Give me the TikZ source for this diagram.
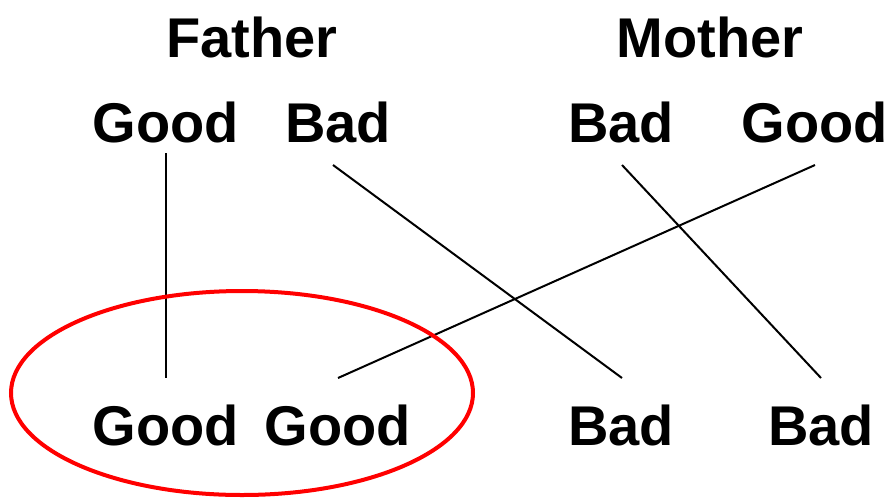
\documentclass[tikz,border=0pt]{standalone}
\usepackage{fontspec}
\usetikzlibrary{shapes.geometric}
\setmainfont{Liberation Sans}
\begin{document}
\begin{tikzpicture}[x=1pt,y=-1pt,
  lbl/.style={font=\bfseries\fontsize{56}{60}\selectfont, inner sep=0pt, anchor=center},
  link/.style={line width=2pt, black},
  ring/.style={draw=red, line width=4pt}]
\useasboundingbox (0,0) rectangle (890,501);
\node[lbl] (father) at (252,37) {Father};
\node[lbl] (mother) at (710,37) {Mother};
\node[lbl] (fg) at (166,122) {Good};
\node[lbl] (fb) at (338,122) {Bad};
\node[lbl] (mb) at (621,122) {Bad};
\node[lbl] (mg) at (815,122) {Good};
\node[lbl] (c1) at (166,425) {Good};
\node[lbl] (c2) at (338,425) {Good};
\node[lbl] (c3) at (621,425) {Bad};
\node[lbl] (c4) at (821,425) {Bad};
\coordinate (fgs) at (166,153);
\coordinate (fbs) at (333,165);
\coordinate (mbs) at (622,165);
\coordinate (mgs) at (815,165);
\coordinate (c1n) at (166,378);
\coordinate (c2n) at (338,378);
\coordinate (c3n) at (622,378);
\coordinate (c4n) at (821,378);
\draw[link] (fgs) -- (c1n);
\draw[link] (fbs) -- (c3n);
\draw[link] (mgs) -- (c2n);
\draw[link] (mbs) -- (c4n);
\node[ring, ellipse, minimum width=462pt, minimum height=204pt, inner sep=0pt] (oval) at (242,393) {};
\end{tikzpicture}
\end{document}
